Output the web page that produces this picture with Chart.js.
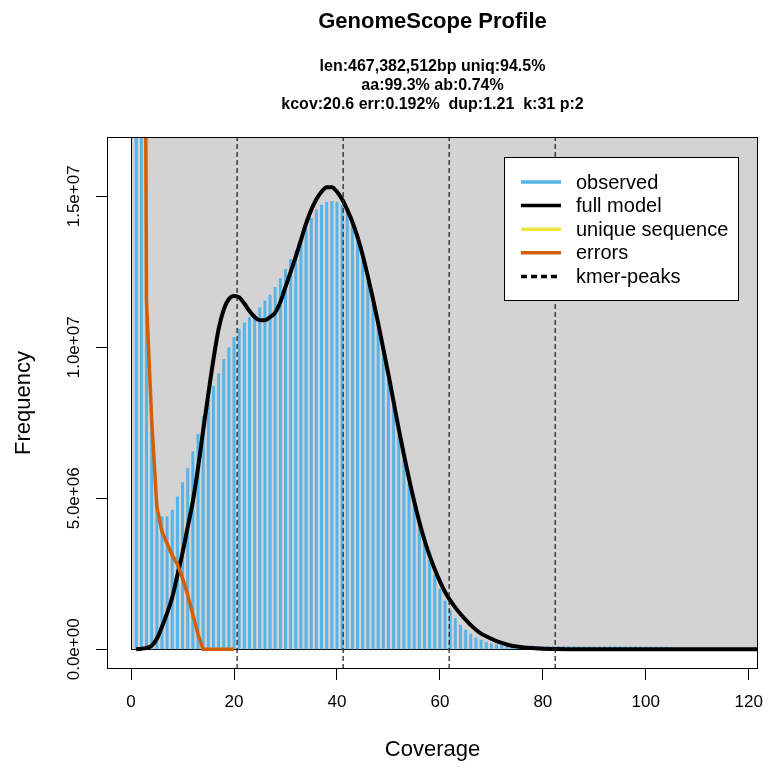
<!DOCTYPE html>
<html>
<head>
<meta charset="utf-8">
<script src="https://cdn.jsdelivr.net/npm/chart.js@4.4.0/dist/chart.umd.min.js"></script>
<style>
  html, body { margin: 0; padding: 0; background: #fff; }
  #wrap { width: 780px; height: 778px; }
</style>
</head>
<body>
<div id="wrap"><canvas id="chart" width="780" height="778"></canvas></div>
<script>
// k-mer coverage histogram
const coverage = [
  1, 2, 3, 4, 5, 6, 7, 8, 9, 10, 11, 12, 13, 14, 15, 16, 17, 18, 19, 20,
  21, 22, 23, 24, 25, 26, 27, 28, 29, 30, 31, 32, 33, 34, 35, 36, 37, 38, 39, 40,
  41, 42, 43, 44, 45, 46, 47, 48, 49, 50, 51, 52, 53, 54, 55, 56, 57, 58, 59, 60,
  61, 62, 63, 64, 65, 66, 67, 68, 69, 70, 71, 72, 73, 74, 75, 76, 77, 78, 79, 80,
  81, 82, 83, 84, 85, 86, 87, 88, 89, 90, 91, 92, 93, 94, 95, 96, 97, 98, 99, 100,
  101, 102, 103, 104, 105, 106, 107, 108, 109, 110, 111, 112, 113, 114, 115, 116
];
const observed = [
  150000000, 45000000, 11600000, 7600000, 4900000, 4390000, 4390000, 4610000, 5050000, 5520000,
  5990000, 6540000, 7120000, 7700000, 8260000, 8720000, 9120000, 9600000, 9990000, 10330000,
  10600000, 10810000, 10990000, 11100000, 11310000, 11540000, 11730000, 11990000, 12280000, 12580000,
  12910000, 13200000, 13530000, 13910000, 14270000, 14550000, 14710000, 14800000, 14830000, 14810000,
  14710000, 14490000, 14050000, 13500000, 12900000, 12200000, 11450000, 10650000, 9800000, 8950000,
  8050000, 7150000, 6300000, 5500000, 4800000, 4120000, 3500000, 2960000, 2460000, 1990000,
  1600000, 1300000, 1030000, 800000, 640000, 500000, 380000, 310000, 230000, 180000,
  150000, 130000, 120000, 115000, 110000, 108000, 106000, 104000, 102000, 100000,
  99000, 98000, 97000, 96000, 95000, 94000, 93000, 92000, 91000, 90000,
  89000, 88000, 87000, 86000, 85000, 84000, 83000, 82000, 81000, 80000,
  78000, 76000, 74000, 70000, 50000, 45000, 42000, 40000, 38000, 36000,
  34000, 32000, 30000, 28000, 26000, 25000
];

// fitted full model
const modelCov = [
  1, 2, 3, 4, 5, 6, 7, 8, 9, 10, 11, 12, 13, 14, 15, 16, 17, 18, 19, 20,
  21, 22, 23, 24, 25, 26, 27, 28, 29, 30, 31, 32, 33, 34, 35, 36, 37, 38, 39, 40,
  41, 42, 43, 44, 45, 46, 47, 48, 49, 50, 51, 52, 53, 54, 55, 56, 57, 58, 59, 60,
  61, 62, 63, 64, 65, 66, 67, 68, 69, 70, 71, 72, 73, 74, 75, 76, 77, 78, 79, 80,
  82, 85, 90, 100, 110, 125
];
const model = [
  5000, 20000, 50000, 120000, 350000, 750000, 1200000, 1720000, 2450000, 3200000,
  4050000, 4900000, 6000000, 7250000, 8450000, 9600000, 10600000, 11250000, 11600000, 11700000,
  11650000, 11450000, 11200000, 11000000, 10900000, 10900000, 11000000, 11150000, 11500000, 12000000,
  12500000, 13000000, 13550000, 14100000, 14550000, 14900000, 15150000, 15300000, 15300000, 15150000,
  14900000, 14550000, 14150000, 13650000, 13050000, 12350000, 11600000, 10800000, 9950000, 9100000,
  8200000, 7300000, 6450000, 5650000, 4900000, 4220000, 3620000, 3100000, 2650000, 2250000,
  1900000, 1620000, 1380000, 1170000, 980000, 800000, 650000, 520000, 430000, 350000,
  270000, 210000, 160000, 120000, 90000, 70000, 50000, 40000, 30000, 20000,
  12000, 5000, 2000, 0, 0, 0
];

// error k-mers
const errorCov = [1, 2, 3, 4, 5, 6, 7, 8, 9, 10, 11, 12, 13, 14, 15, 16, 17, 18, 19, 20];
const errors = [
  200000000, 50000000, 11500000, 7600000, 4720000, 3900000, 3500000, 3120000, 2820000, 2350000,
  1800000, 1150000, 500000, 0, 0, 0, 0, 0, 0, 0
];

const kmerPeaks = [20.6, 41.2, 61.8, 82.4];

const xTickValues = [0, 20, 40, 60, 80, 100, 120];
const yTickValues = [0, 5000000, 10000000, 15000000];
const yTickLabels = ["0.0e+00", "5.0e+06", "1.0e+07", "1.5e+07"];

const titleText = "GenomeScope Profile";
const subtitleLines = [
  "len:467,382,512bp uniq:94.5%",
  "aa:99.3% ab:0.74%",
  "kcov:20.6 err:0.192%  dup:1.21  k:31 p:2"
];

const X_MIN = -4.68, X_MAX = 121.8;
const Y_MIN = -652000, Y_MAX = 16964000;

const FONT = '"Liberation Sans", Arial, Helvetica, sans-serif';
Chart.defaults.font.family = FONT;
Chart.defaults.color = "#000";

const peakPoints = [];
kmerPeaks.forEach(p => {
  peakPoints.push({ x: p, y: Y_MIN }, { x: p, y: Y_MAX }, { x: p, y: null });
});

// grey background rect from (0,0) like the R plot
const backgroundRect = {
  id: "backgroundRect",
  beforeDatasetsDraw(chart) {
    const { ctx, chartArea: a, scales: { x, y } } = chart;
    const x0 = Math.round(x.getPixelForValue(0)) + 0.5;
    const y0 = Math.round(y.getPixelForValue(0)) + 0.5;
    ctx.save();
    ctx.beginPath();
    ctx.rect(a.left, a.top, a.width, a.height);
    ctx.clip();
    ctx.fillStyle = "#D3D3D3";
    ctx.fillRect(x0, a.top - 5, a.right + 5 - x0, y0 - a.top + 5);
    ctx.strokeStyle = "#000";
    ctx.lineWidth = 1;
    ctx.strokeRect(x0, a.top - 5, a.right + 5 - x0, y0 - a.top + 5);
    ctx.restore();
  }
};

const decorations = {
  id: "decorations",
  afterDraw(chart) {
    const { ctx, chartArea: a, scales: { y } } = chart;
    const cx = (a.left + a.right) / 2;
    ctx.save();

    // plot box
    ctx.strokeStyle = "#000";
    ctx.lineWidth = 1;
    ctx.strokeRect(a.left + 0.5, a.top + 0.5, a.width - 1, a.height - 1);

    // titles
    ctx.fillStyle = "#000";
    ctx.textAlign = "center";
    ctx.textBaseline = "middle";
    ctx.font = "bold 22px " + FONT;
    ctx.fillText(titleText, cx, 22);
    ctx.font = "bold 16px " + FONT;
    subtitleLines.forEach((t, i) => ctx.fillText(t, cx, 67 + i * 18.7));

    // y tick labels, rotated like R's las=0
    ctx.font = "17px " + FONT;
    yTickValues.forEach((v, i) => {
      ctx.save();
      ctx.translate(74, y.getPixelForValue(v));
      ctx.rotate(-Math.PI / 2);
      ctx.fillText(yTickLabels[i], 0, 0);
      ctx.restore();
    });

    // legend
    const lx = 504.5, ly = 157.5, lw = 234, lh = 143;
    ctx.fillStyle = "#fff";
    ctx.fillRect(lx, ly, lw, lh);
    ctx.strokeRect(lx, ly, lw, lh);
    ctx.font = "20px " + FONT;
    ctx.textAlign = "left";
    chart.data.datasets.forEach((ds, i) => {
      const ry = 182 + i * 23.6;
      ctx.save();
      ctx.strokeStyle = ds.legendColor;
      ctx.lineWidth = 3.5;
      ctx.setLineDash(ds.borderDash ? [6, 4] : []);
      ctx.beginPath();
      ctx.moveTo(521, ry);
      ctx.lineTo(561, ry);
      ctx.stroke();
      ctx.restore();
      ctx.fillStyle = "#000";
      ctx.fillText(ds.label, 576, ry + 1);
    });
    ctx.restore();
  }
};

new Chart(document.getElementById("chart"), {
  type: "bar",
  data: {
    datasets: [
      {
        type: "bar",
        label: "observed",
        data: coverage.map((c, i) => ({ x: c, y: observed[i] })),
        backgroundColor: "#56B4E9",
        legendColor: "#56B4E9",
        borderWidth: 0,
        barThickness: 2.3,
        clip: 0,
        order: 4
      },
      {
        type: "line",
        label: "full model",
        data: modelCov.map((c, i) => ({ x: c, y: model[i] })),
        borderColor: "#000",
        legendColor: "#000",
        borderWidth: 4,
        pointRadius: 0,
        cubicInterpolationMode: "monotone",
        clip: 0,
        order: 3
      },
      {
        type: "line",
        label: "unique sequence",
        data: [],
        borderColor: "#F0E442",
        legendColor: "#F0E442",
        borderWidth: 4,
        pointRadius: 0,
        order: 5
      },
      {
        type: "line",
        label: "errors",
        data: errorCov.map((c, i) => ({ x: c, y: errors[i] })),
        borderColor: "#D55E00",
        legendColor: "#D55E00",
        borderWidth: 3.5,
        pointRadius: 0,
        tension: 0,
        clip: 0,
        order: 2
      },
      {
        type: "line",
        label: "kmer-peaks",
        data: peakPoints,
        borderColor: "#2a2a2a",
        legendColor: "#000",
        borderWidth: 1.3,
        borderDash: [5, 3],
        pointRadius: 0,
        spanGaps: false,
        clip: 0,
        order: 1
      }
    ]
  },
  options: {
    responsive: false,
    animation: false,
    devicePixelRatio: 1,
    layout: { padding: { top: 137, right: 22, left: 0, bottom: 0 } },
    plugins: {
      legend: { display: false },
      title: { display: false },
      tooltip: { enabled: false }
    },
    scales: {
      x: {
        type: "linear",
        min: X_MIN,
        max: X_MAX,
        offset: false,
        afterBuildTicks(s) { s.ticks = xTickValues.map(v => ({ value: v })); },
        ticks: { font: { size: 17 }, color: "#000", padding: 12, maxRotation: 0, autoSkip: false },
        grid: { drawOnChartArea: false, drawTicks: true, tickLength: 11, color: "#000", offset: false },
        border: { display: false },
        title: { display: true, text: "Coverage", font: { size: 22 }, color: "#000", padding: { top: 0, bottom: 15 } },
        afterFit(s) { s.height = 109; }
      },
      y: {
        type: "linear",
        min: Y_MIN,
        max: Y_MAX,
        afterBuildTicks(s) { s.ticks = yTickValues.map(v => ({ value: v })); },
        ticks: { display: false },
        grid: { drawOnChartArea: false, drawTicks: true, tickLength: 11, color: "#000" },
        border: { display: false },
        title: { display: true, text: "Frequency", font: { size: 22 }, color: "#000", padding: { top: 11, bottom: 0 } },
        afterFit(s) { s.width = 107; }
      }
    }
  },
  plugins: [backgroundRect, decorations]
});
</script>
</body>
</html>
